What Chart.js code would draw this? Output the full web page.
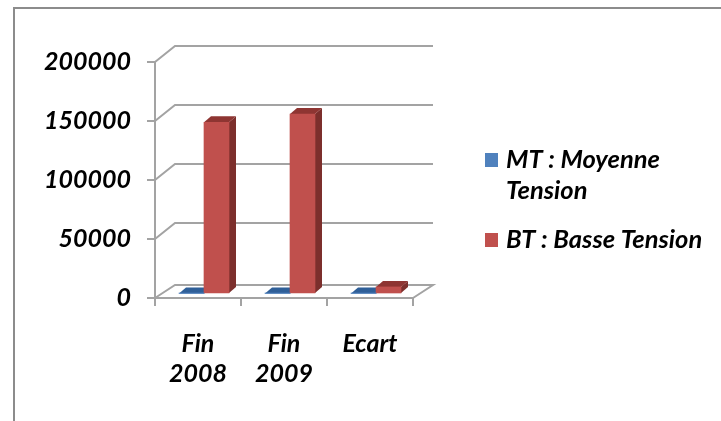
<!DOCTYPE html>
<html>
<head>
<meta charset="utf-8">
<script src="https://cdn.jsdelivr.net/npm/chart.js@4"></script>
<style>
  html, body { margin: 0; padding: 0; background: #fff; overflow: hidden; }
  #frame { position: absolute; left: 13px; top: 7px; width: 708px; height: 414px;
           border-left: 2px solid #8c8c8c; border-top: 2px solid #8c8c8c; box-sizing: border-box; }
  #wrap { position: absolute; left: 0; top: 0; width: 721px; height: 421px; filter: blur(0.4px); }
</style>
</head>
<body>
<div id="frame"></div>
<div id="wrap"><canvas id="chart" width="721" height="421"></canvas></div>
<script>
// --- data ---
const categories = [['Fin', '2008'], ['Fin', '2009'], 'Ecart'];
const mtValues = [500, 500, 500];
const btValues = [145500, 152500, 6000];
const seriesNames = ['MT : Moyenne Tension', 'BT : Basse Tension'];
const legendLines = [['MT : Moyenne', 'Tension'], ['BT : Basse Tension']];
const yTicks = [0, 50000, 100000, 150000, 200000];

const labelFont = { family: 'Lato', size: 25, weight: 'bold', style: 'italic', lineHeight: 1.2 };
const gridColor = '#a3a3a3';

// fake 3d: colours per series (front, top, side)
const blue = { front: '#4f81bd', top: '#2f5f98', side: '#2a5487' };
const red = { front: '#c0504d', top: '#8e3532', side: '#7c2f2c' };
const faces = [blue, red];

const wallDx = 20, wallDy = 16, floorDy = 13;   // back wall offset from the axis plane
const barOffX = 6, barOffY = -4;                // bars stand in the middle of the floor
const depthX = 7, depthY = -6;                  // bar depth

const fake3d = {
    id: 'fake3d',
    beforeDatasetsDraw(chart) {
        const { ctx, scales: { x, y } } = chart;
        const left = x.left, right = x.right;

        // gridlines on side wall and back wall
        ctx.save();
        ctx.strokeStyle = gridColor;
        ctx.lineWidth = 2;
        yTicks.forEach(v => {
            const py = y.getPixelForValue(v);
            const dy = v === 0 ? floorDy : wallDy;
            ctx.beginPath();
            ctx.moveTo(left, py);
            ctx.lineTo(left + wallDx, py - dy);
            ctx.lineTo(right + wallDx, py - dy);
            if (v === 0) ctx.lineTo(right, py);
            ctx.stroke();
        });
        ctx.restore();

        // side and top faces, the library draws the front faces
        ctx.save();
        ctx.translate(barOffX, barOffY);
        chart.data.datasets.forEach((ds, i) => {
            chart.getDatasetMeta(i).data.forEach(bar => {
                const l = bar.x - bar.width / 2, r = bar.x + bar.width / 2;
                ctx.fillStyle = faces[i].side;
                ctx.beginPath();
                ctx.moveTo(r, bar.y);
                ctx.lineTo(r + depthX, bar.y + depthY);
                ctx.lineTo(r + depthX, bar.base + depthY);
                ctx.lineTo(r, bar.base);
                ctx.fill();
                ctx.fillStyle = faces[i].top;
                ctx.beginPath();
                ctx.moveTo(l, bar.y);
                ctx.lineTo(l + depthX, bar.y + depthY);
                ctx.lineTo(r + depthX, bar.y + depthY);
                ctx.lineTo(r, bar.y);
                ctx.fill();
            });
        });
        // left open for the bars, closed in afterDatasetsDraw
    },
    afterDatasetsDraw(chart) {
        const { ctx } = chart;
        ctx.restore();

        // legend, wrapped the way the original wraps it
        ctx.save();
        ctx.font = 'italic bold 25.5px Lato';
        ctx.textBaseline = 'middle';
        const rows = [160, 240];
        legendLines.forEach((lines, i) => {
            ctx.fillStyle = faces[i].front;
            ctx.fillRect(485, rows[i] - 7, 13, 14);
            ctx.fillStyle = '#000';
            lines.forEach((t, k) => ctx.fillText(t, 506, rows[i] + k * 31));
        });
        ctx.restore();
    }
};

new Chart(document.getElementById('chart'), {
    type: 'bar',
    data: {
        labels: categories,
        datasets: [
            { label: seriesNames[0], data: mtValues, backgroundColor: blue.front, barThickness: 25 },
            { label: seriesNames[1], data: btValues, backgroundColor: red.front, barThickness: 25 }
        ]
    },
    plugins: [fake3d],
    options: {
        responsive: false,
        animation: false,
        layout: { padding: { top: 62, right: 308, left: 0, bottom: 0 } },
        plugins: { legend: { display: false }, title: { display: false }, tooltip: { enabled: false } },
        scales: {
            y: {
                min: 0,
                max: 200000,
                afterBuildTicks: s => { s.ticks = yTicks.map(v => ({ value: v })); },
                afterFit: s => { s.width = 155; s.paddingTop = 0; s.paddingBottom = 0; },
                border: { color: gridColor, width: 2 },
                grid: { drawOnChartArea: false, drawTicks: true, tickLength: 8, color: gridColor, lineWidth: 2 },
                ticks: { color: '#000', font: labelFont, padding: 16, callback: v => String(v) }
            },
            x: {
                afterFit: s => { s.height = 123; s.paddingLeft = 0; s.paddingRight = 0; },
                border: { color: gridColor, width: 2 },
                grid: { drawOnChartArea: false, drawTicks: true, tickLength: 8, color: gridColor, lineWidth: 2 },
                ticks: { color: '#000', font: labelFont, padding: 23, maxRotation: 0, autoSkip: false }
            }
        }
    }
});
</script>
</body>
</html>
